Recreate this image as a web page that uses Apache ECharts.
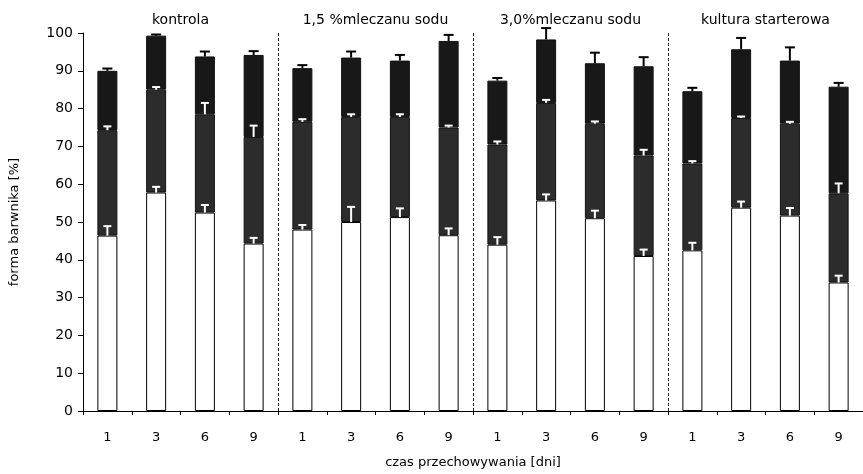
<!DOCTYPE html>
<html>
<head>
<meta charset="utf-8">
<script src="https://cdn.jsdelivr.net/npm/echarts@6/dist/echarts.min.js"></script>
<style>html,body{margin:0;padding:0;background:#fff;}#c{width:863px;height:474px;}</style>
</head>
<body>
<div id="c"></div>
<script>
// ---- data ----
var days = ['1','3','6','9','1','3','6','9','1','3','6','9','1','3','6','9'];
var groups = ['kontrola', '1,5 %mleczanu sodu', '3,0%mleczanu sodu', 'kultura starterowa'];
// top of white (bottom) segment
var whiteTop = [46.4, 57.8, 52.5, 44.3, 48.0, 50.0, 51.3, 46.5, 44.0, 55.7, 51.0, 41.0, 42.5, 53.8, 51.7, 34.0];
var whiteErr = [2.5, 1.5, 2.0, 1.5, 1.2, 4.0, 2.3, 1.8, 2.0, 1.6, 2.0, 1.7, 2.0, 1.6, 2.0, 1.8];
// top of middle segment
var midTop = [74.3, 85.0, 78.5, 72.5, 76.5, 77.8, 77.8, 75.0, 70.5, 81.5, 76.0, 67.6, 65.5, 77.5, 76.0, 57.6];
var midErr = [1.0, 0.7, 3.0, 3.0, 0.7, 0.7, 0.7, 0.5, 0.8, 0.8, 0.6, 1.5, 0.6, 0.4, 0.5, 2.6];
// top of whole bar
var totalTop = [90.0, 99.3, 93.8, 94.2, 90.7, 93.5, 92.7, 97.9, 87.4, 98.3, 92.0, 91.2, 84.6, 95.7, 92.7, 85.8];
var totalErr = [0.6, 0.3, 1.3, 1.0, 0.8, 1.6, 1.5, 1.6, 0.7, 3.0, 2.8, 2.4, 0.9, 3.0, 3.5, 1.0];

var seg1 = whiteTop.slice();
var seg2 = midTop.map(function (v, i) { return +(v - whiteTop[i]).toFixed(2); });
var seg3 = totalTop.map(function (v, i) { return +(v - midTop[i]).toFixed(2); });

function errData(tops, errs) {
  return tops.map(function (v, i) { return [i, v, errs[i]]; });
}
function errRender(color, lw, capHalf) {
  return function (params, api) {
    var i = api.value(0), base = api.value(1), e = api.value(2);
    var p0 = api.coord([i, base]);
    var p1 = api.coord([i, base + e]);
    var st = { stroke: color, lineWidth: lw };
    return {
      type: 'group',
      children: [
        { type: 'line', shape: { x1: p0[0], y1: p0[1], x2: p1[0], y2: p1[1] }, style: st },
        { type: 'line', shape: { x1: p1[0] - capHalf, y1: p1[1], x2: p1[0] + capHalf, y2: p1[1] }, style: st }
      ]
    };
  };
}

var FONT = 'DejaVu Sans';
var chart = echarts.init(document.getElementById('c'), null, { renderer: 'canvas' });
chart.setOption({
  animation: false,
  backgroundColor: '#fff',
  textStyle: { fontFamily: FONT, color: '#000' },
  grid: { left: 83, top: 33, width: 784, height: 382, containLabel: false },
  xAxis: [{
    type: 'category',
    data: days,
    boundaryGap: true,
    axisLine: { lineStyle: { color: '#000', width: 1 } },
    axisTick: { show: true, length: 4, lineStyle: { color: '#000' } },
    axisLabel: { color: '#000', fontSize: 13, margin: 20, fontFamily: FONT },
    splitLine: {
      show: true,
      interval: function (idx) { return idx === 4 || idx === 8 || idx === 12; },
      lineStyle: { color: '#222', type: [3, 2], width: 1 }
    },
    name: 'czas przechowywania [dni]',
    nameLocation: 'middle',
    nameGap: 45,
    nameTextStyle: { color: '#000', fontSize: 13, fontFamily: FONT }
  }, {
    type: 'category',
    data: groups,
    position: 'top',
    gridIndex: 0,
    axisLine: { show: false },
    axisTick: { show: false },
    axisLabel: { color: '#000', fontSize: 14, margin: 6, fontFamily: FONT },
    splitLine: { show: false }
  }],
  yAxis: {
    type: 'value',
    min: 0, max: 100, interval: 10,
    axisLine: { show: true, lineStyle: { color: '#000', width: 1 } },
    axisTick: { show: true, length: 5, lineStyle: { color: '#000' } },
    axisLabel: { color: '#000', fontSize: 14, margin: 10, fontFamily: FONT },
    splitLine: { show: false },
    name: 'forma barwnika [%]',
    nameLocation: 'middle',
    nameGap: 62,
    nameRotate: 90,
    nameTextStyle: { color: '#000', fontSize: 13, fontFamily: FONT }
  },
  series: [
    { type: 'bar', stack: 's', data: seg1, barWidth: 20,
      itemStyle: { color: '#fff', borderColor: '#000', borderWidth: 1 } },
    { type: 'bar', stack: 's', data: seg2, barWidth: 20,
      itemStyle: { color: '#2c2c2c', borderColor: '#111', borderWidth: 1 } },
    { type: 'bar', stack: 's', data: seg3, barWidth: 20,
      itemStyle: { color: '#181818', borderColor: '#111', borderWidth: 1 } },
    { type: 'custom', data: errData(whiteTop, whiteErr), renderItem: errRender('#fff', 2, 4), z: 10,
      encode: { x: 0, y: 1 } },
    { type: 'custom', data: errData(midTop, midErr), renderItem: errRender('#fff', 2, 4), z: 10,
      encode: { x: 0, y: 1 } },
    { type: 'custom', data: errData(totalTop, totalErr), renderItem: errRender('#000', 2, 5), z: 10,
      encode: { x: 0, y: 1 } }
  ]
});
</script>
</body>
</html>
